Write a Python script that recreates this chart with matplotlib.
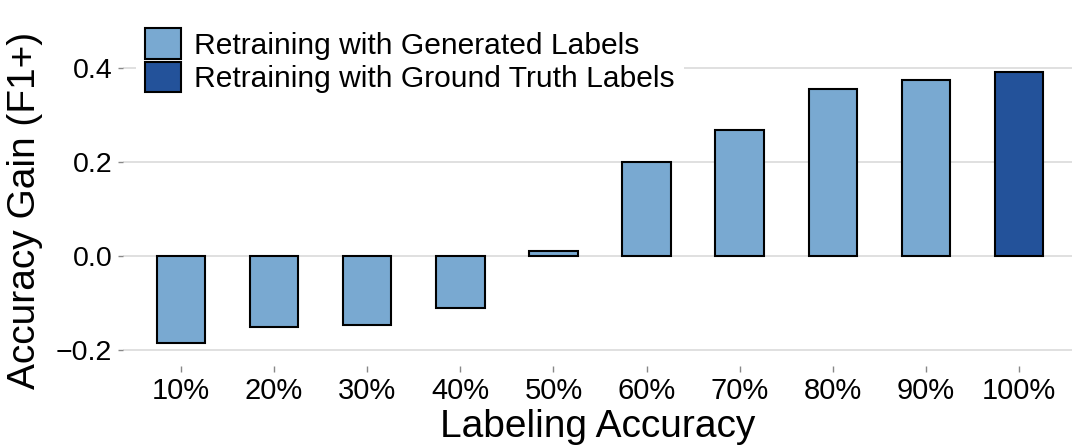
import matplotlib
matplotlib.use("Agg")
import matplotlib.pyplot as plt
from matplotlib.patches import Patch

plt.rcParams['font.family'] = ['Liberation Sans', 'DejaVu Sans']

categories = ["10%", "20%", "30%", "40%", "50%", "60%", "70%", "80%", "90%", "100%"]
gains = [-0.185, -0.151, -0.147, -0.111, 0.011, 0.200, 0.268, 0.355, 0.374, 0.391]
series = ["gen", "gen", "gen", "gen", "gen", "gen", "gen", "gen", "gen", "gt"]
series_labels = {"gen": "Retraining with Generated Labels",
                 "gt": "Retraining with Ground Truth Labels"}
series_colors = {"gen": "#79A9D1", "gt": "#23529A"}
yticks = [-0.2, 0.0, 0.2, 0.4]
ytick_labels = ["\u22120.2", "0.0", "0.2", "0.4"]

W, H = 1072, 446
fig = plt.figure(figsize=(W / 100, H / 100), dpi=100)
ax = fig.add_axes([123 / W, 1 - 366 / H, (1072 - 123) / W, (366 - 54) / H])

x = list(range(len(categories)))
ax.bar(x, gains, width=0.52, color=[series_colors[s] for s in series],
       edgecolor="black", linewidth=1.5, zorder=3)

ax.set_xlim(-0.623, 9.57)
ax.set_ylim(-0.234, 0.43)
ax.set_yticks(yticks)
ax.set_yticklabels(ytick_labels)
ax.set_xticks(x)
ax.set_xticklabels(categories)

ax.grid(axis="y", color="#DDDDDD", linewidth=1.3, zorder=0)
ax.set_axisbelow(True)
for s in ax.spines.values():
    s.set_visible(False)

ax.tick_params(axis="y", length=3.8, width=1.0, color="#888888", labelsize=20.5, pad=4)
ax.tick_params(axis="x", length=4, width=1.0, color="#888888", labelsize=21, pad=4)

ax.set_ylabel("Accuracy Gain (F1+)", fontsize=28, labelpad=9)
ax.set_xlabel("Labeling Accuracy", fontsize=28, labelpad=3)

handles = [Patch(facecolor=series_colors[k], edgecolor="black", linewidth=1.5, label=series_labels[k])
           for k in ["gen", "gt"]]
leg = fig.legend(handles=handles, loc="upper left", bbox_to_anchor=(136 / W, 1 - 19 / H),
                 bbox_transform=fig.transFigure, fontsize=21.6, frameon=True,
                 facecolor="white", edgecolor="none", fancybox=False, framealpha=1,
                 borderpad=0.3, borderaxespad=0, handlelength=1.2, handleheight=1.2,
                 handletextpad=0.45, labelspacing=0.07)

fig.savefig("out.png", dpi=100)
